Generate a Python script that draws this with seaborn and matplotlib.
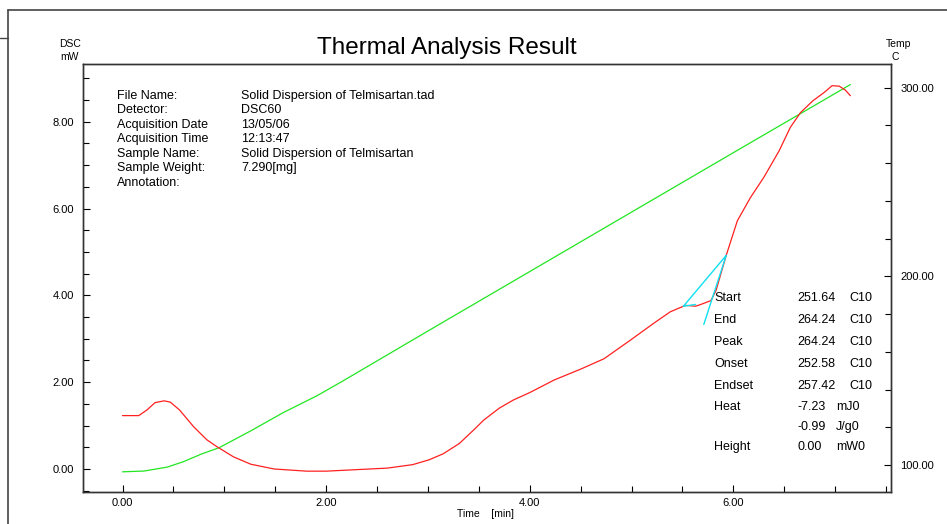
import numpy as np
import pandas as pd
import matplotlib.pyplot as plt
import seaborn as sns
from matplotlib.lines import Line2D
from matplotlib.ticker import MultipleLocator, FormatStrFormatter

sns.set_style("white")
plt.rcParams['font.family'] = ['Liberation Sans', 'DejaVu Sans']
plt.rcParams['text.color'] = 'black'
plt.rcParams['xtick.color'] = 'black'
plt.rcParams['ytick.color'] = 'black'

# DSC signal (mW) vs time (min)
dsc_time = [0.00, 0.16, 0.24, 0.32, 0.41, 0.47, 0.56, 0.70, 0.83, 0.93, 1.09, 1.26, 1.49, 1.81, 2.00,
            2.34, 2.60, 2.85, 3.01, 3.15, 3.31, 3.45, 3.55, 3.70, 3.84, 4.00, 4.24, 4.50,
            4.73, 4.99, 5.22, 5.38, 5.53, 5.63, 5.68, 5.78, 5.83, 5.93, 6.04, 6.17, 6.30,
            6.45, 6.56, 6.66, 6.78, 6.89, 6.97, 7.04, 7.10, 7.15]
dsc_mw = [1.23, 1.23, 1.36, 1.53, 1.57, 1.54, 1.36, 0.97, 0.67, 0.51, 0.28, 0.11, 0.00, -0.05, -0.05,
          -0.01, 0.02, 0.10, 0.21, 0.35, 0.59, 0.90, 1.13, 1.40, 1.59, 1.76, 2.05, 2.30,
          2.54, 2.97, 3.36, 3.62, 3.77, 3.75, 3.79, 3.88, 4.11, 4.92, 5.72, 6.26, 6.72,
          7.33, 7.87, 8.21, 8.48, 8.67, 8.83, 8.82, 8.73, 8.60]

# temperature (C) vs time (min)
temp_time = [0.00, 0.21, 0.44, 0.60, 0.77, 0.95, 1.26, 1.58, 1.91, 2.17, 3.00, 4.00, 5.00, 6.00, 7.15]
temp_c = [96.4, 96.8, 98.9, 101.8, 105.7, 109.2, 118.1, 127.8, 136.7, 144.7, 171.0, 202.5, 234.0, 265.5, 301.6]

# tangent construction lines
tan1_t = [5.51, 5.93]
tan1_v = [3.75, 4.92]
tan2_t = [5.93, 5.71]
tan2_v = [4.92, 3.33]
base_t = [5.51, 5.63]
base_v = [3.75, 3.79]

info_labels = ["File Name:", "Detector:", "Acquisition Date", "Acquisition Time",
               "Sample Name:", "Sample Weight:", "Annotation:"]
info_values = ["Solid Dispersion of Telmisartan.tad", "DSC60", "13/05/06", "12:13:47",
               "Solid Dispersion of Telmisartan", "7.290[mg]", ""]

res_labels = ["Start", "End", "Peak", "Onset", "Endset", "Heat", "", "Height"]
res_values = ["251.64", "264.24", "264.24", "252.58", "257.42", "-7.23", "-0.99", "0.00"]
res_units = ["C10", "C10", "C10", "C10", "C10", "mJ0", "J/g0", "mW0"]

W, H = 947, 524
fig = plt.figure(figsize=(W / 100, H / 100), dpi=100)
fig.patch.set_facecolor("white")


def px(x, y):
    return x / W, 1 - y / H


ax = fig.add_axes([82.7 / W, 1 - 492 / H, (890.7 - 82.7) / W, (492 - 64) / H])
ax2 = ax.twinx()

dsc = pd.DataFrame({"t": dsc_time, "v": dsc_mw})
tmp = pd.DataFrame({"t": temp_time, "T": temp_c})

sns.lineplot(data=tmp, x="t", y="T", ax=ax2, color="#22e622", linewidth=0.9, estimator=None, sort=False)
sns.lineplot(data=dsc, x="t", y="v", ax=ax, color="#ff2020", linewidth=0.9, estimator=None, sort=False)
for tt, vv in [(tan1_t, tan1_v), (tan2_t, tan2_v), (base_t, base_v)]:
    sns.lineplot(x=tt, y=vv, ax=ax, color="#10e0f0", linewidth=1.0, estimator=None, sort=False)

ax.set_zorder(ax2.get_zorder() + 1)
ax.patch.set_visible(False)

ax.set_xlim(-0.391, 7.546)
ax.set_ylim(-0.53, 9.33)
ax2.set_ylim(85.7, 312.5)

ax.xaxis.set_major_locator(MultipleLocator(2))
ax.xaxis.set_minor_locator(MultipleLocator(0.5))
ax.yaxis.set_major_locator(MultipleLocator(2))
ax.yaxis.set_minor_locator(MultipleLocator(0.5))
ax2.yaxis.set_major_locator(MultipleLocator(100))
ax2.yaxis.set_minor_locator(MultipleLocator(20))
for a in (ax.xaxis, ax.yaxis, ax2.yaxis):
    a.set_major_formatter(FormatStrFormatter("%.2f"))

ax.tick_params(which="major", direction="in", length=5, width=0.8, labelsize=8, pad=6, colors="black")
ax.tick_params(which="minor", direction="in", length=4, width=0.8)
ax.tick_params(axis="x", which="major", pad=4)
ax.tick_params(axis="both", which="both", left=True, bottom=True, right=False, top=False)
ax2.tick_params(which="major", direction="in", length=5, width=0.8, labelsize=8, pad=7)
ax2.tick_params(which="minor", direction="in", length=4, width=0.8)
ax.set_xlabel("")
ax.set_ylabel("")
ax2.set_ylabel("")

for a in (ax, ax2):
    for s in a.spines.values():
        s.set_color("#333333")
        s.set_linewidth(1.0)

# axis captions
fig.text(*px(70, 44), "DSC", ha="center", va="center", fontsize=7.5)
fig.text(*px(69, 57), "mW", ha="center", va="center", fontsize=7.5)
fig.text(*px(899, 44), "Temp", ha="center", va="center", fontsize=7.5)
fig.text(*px(895, 57), "C", ha="center", va="center", fontsize=7.5)
fig.text(*px(485, 514), "Time    [min]", ha="center", va="center", fontsize=7.5)

fig.text(*px(446.5, 48), "Thermal Analysis Result", ha="center", va="center", fontsize=17.5)

for i, (lab, val) in enumerate(zip(info_labels, info_values)):
    y = 96 + i * 14.45
    fig.text(*px(117, y), lab, ha="left", va="center", fontsize=9)
    fig.text(*px(241, y), val, ha="left", va="center", fontsize=9)

res_y = [297.7, 320, 342, 363.7, 385.7, 406.7, 426.7, 446.7]
for lab, val, unit, y in zip(res_labels, res_values, res_units, res_y):
    fig.text(*px(714, y), lab, ha="left", va="center", fontsize=9)
    fig.text(*px(797, y), val, ha="left", va="center", fontsize=9)
    ux = 849 if unit.startswith("C") else 836
    fig.text(*px(ux, y), unit, ha="left", va="center", fontsize=9)

# outer frame of the printout
fig.add_artist(Line2D([8 / W, 8 / W], [1 - 10 / H, 0], transform=fig.transFigure, color="#444444", linewidth=1.2))
fig.add_artist(Line2D([8 / W, 1], [1 - 10 / H, 1 - 10 / H], transform=fig.transFigure, color="#444444", linewidth=1.2))
fig.add_artist(Line2D([0, 8 / W], [1 - 38 / H, 1 - 38 / H], transform=fig.transFigure, color="#444444", linewidth=1.0))

fig.savefig("out.png", dpi=100)
